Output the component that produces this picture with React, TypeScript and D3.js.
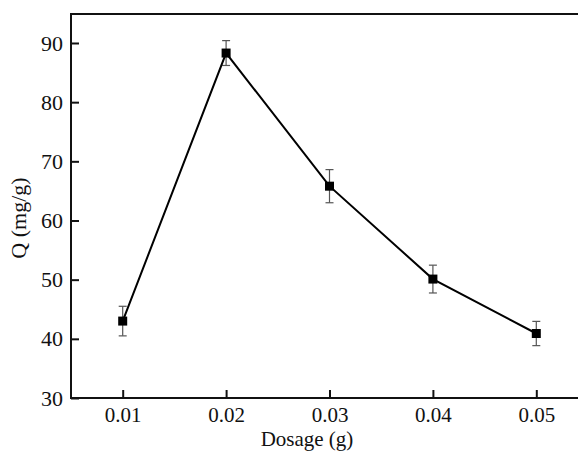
import React, { useEffect, useRef } from "react";
import * as d3 from "d3";

const dosage = [0.01, 0.02, 0.03, 0.04, 0.05];
const qValues = [43.0, 88.3, 65.8, 50.1, 40.9];
const qErrors = [2.5, 2.1, 2.8, 2.35, 2.05];
const xTicks = [0.01, 0.02, 0.03, 0.04, 0.05];
const yTicks = [30, 40, 50, 60, 70, 80, 90];

const App = () => {
  const ref = useRef<SVGSVGElement>(null);

  useEffect(() => {
    const svg = d3.select(ref.current);
    svg.selectAll("*").remove();

    const width = 578;
    const height = 452;
    const left = 71;
    const top = 14;
    const bottom = 398;
    const right = 588; // frame runs off the picture on the right

    const font = "Liberation Serif, Tinos, Times New Roman, serif";

    const x = d3.scaleLinear().domain([0.005, 0.055]).range([left, right]);
    const y = d3.scaleLinear().domain([30, 94.9]).range([bottom, top]);

    svg.attr("width", width).attr("height", height);

    // y axis (ticks inward)
    const yAxis = svg
      .append("g")
      .attr("transform", `translate(${left},0)`)
      .call(
        d3
          .axisLeft(y)
          .tickValues(yTicks)
          .tickSizeInner(-8)
          .tickSizeOuter(0)
          .tickPadding(8)
          .tickFormat(d3.format("d"))
      );

    // x axis (ticks inward)
    const xAxis = svg
      .append("g")
      .attr("transform", `translate(0,${bottom})`)
      .call(
        d3
          .axisBottom(x)
          .tickValues(xTicks)
          .tickSizeInner(-8)
          .tickSizeOuter(0)
          .tickPadding(9)
          .tickFormat(d3.format(".2f"))
      );

    yAxis.attr("font-size", 22);
    xAxis.attr("font-size", 21);
    [xAxis, yAxis].forEach((g) => {
      g.attr("font-family", font);
      g.select(".domain").remove();
      g.selectAll(".tick line").attr("stroke", "#111").attr("stroke-width", 2);
      g.selectAll(".tick text").attr("fill", "#111");
    });

    // frame
    svg
      .append("rect")
      .attr("x", left)
      .attr("y", top)
      .attr("width", right - left)
      .attr("height", bottom - top)
      .attr("fill", "none")
      .attr("stroke", "#111")
      .attr("stroke-width", 2);

    const pts = dosage.map((d, i) => ({ x: d, y: qValues[i], e: qErrors[i] }));

    // error bars
    const eb = svg.append("g").attr("stroke", "#555").attr("stroke-width", 1.2);
    pts.forEach((p) => {
      const cx = x(p.x);
      eb.append("line")
        .attr("x1", cx)
        .attr("x2", cx)
        .attr("y1", y(p.y + p.e))
        .attr("y2", y(p.y - p.e));
      [p.y + p.e, p.y - p.e].forEach((v) => {
        eb.append("line")
          .attr("x1", cx - 4)
          .attr("x2", cx + 4)
          .attr("y1", y(v))
          .attr("y2", y(v));
      });
    });

    // line
    const line = d3
      .line<{ x: number; y: number }>()
      .x((d) => x(d.x))
      .y((d) => y(d.y));
    svg
      .append("path")
      .datum(pts)
      .attr("d", line)
      .attr("fill", "none")
      .attr("stroke", "#000")
      .attr("stroke-width", 2);

    // square markers
    const s = 9;
    svg
      .append("g")
      .selectAll("rect")
      .data(pts)
      .enter()
      .append("rect")
      .attr("x", (d) => x(d.x) - s / 2)
      .attr("y", (d) => y(d.y) - s / 2)
      .attr("width", s)
      .attr("height", s)
      .attr("fill", "#000");

    // axis titles
    svg
      .append("text")
      .attr("x", 307)
      .attr("y", 446)
      .attr("text-anchor", "middle")
      .attr("font-family", font)
      .attr("font-size", 21)
      .attr("fill", "#111")
      .text("Dosage (g)");

    svg
      .append("text")
      .attr("transform", "translate(26,218) rotate(-90)")
      .attr("text-anchor", "middle")
      .attr("font-family", font)
      .attr("font-size", 22)
      .attr("fill", "#111")
      .text("Q (mg/g)");
  }, []);

  return (
    <svg
      ref={ref}
      style={{ position: "absolute", left: 0, top: 0, background: "#fff" }}
    ></svg>
  );
};

export default App;
